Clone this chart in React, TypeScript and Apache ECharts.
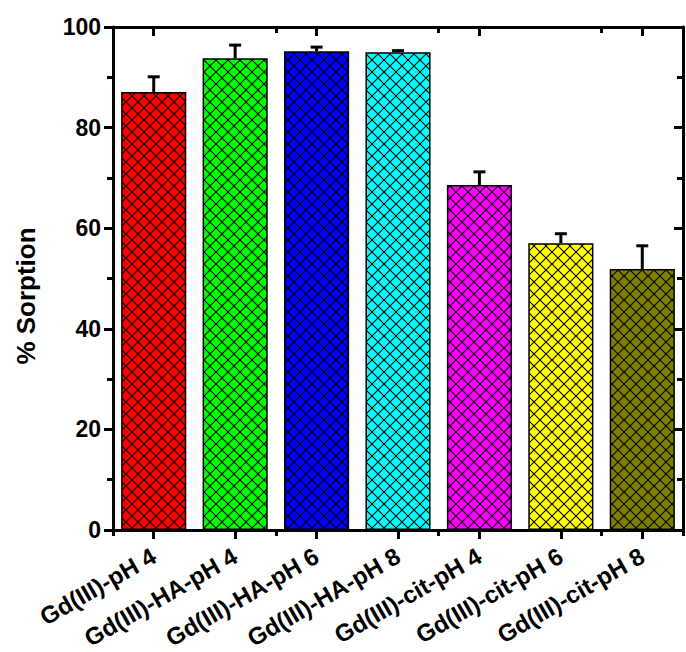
import React, { useEffect, useRef } from "react";
import * as echarts from "echarts";

const categories = [
  "Gd(III)-pH 4",
  "Gd(III)-HA-pH 4",
  "Gd(III)-HA-pH 6",
  "Gd(III)-HA-pH 8",
  "Gd(III)-cit-pH 4",
  "Gd(III)-cit-pH 6",
  "Gd(III)-cit-pH 8",
];
const sorption = [87.1, 93.8, 95.2, 95.0, 68.6, 57.0, 51.9];
const errors = [3.0, 2.6, 0.8, 0.3, 2.6, 1.9, 4.6];
const barColors = ["#FF0000", "#00FF00", "#0000FF", "#00FFFF", "#FF00FF", "#FFFF00", "#808000"];
const yTicks = [0, 20, 40, 60, 80, 100];

const FONT = "'Liberation Sans', Arial, Helvetica, sans-serif";

function makePattern(color: string) {
  const s = 12;
  const c = document.createElement("canvas");
  c.width = s;
  c.height = s;
  const ctx = c.getContext("2d")!;
  ctx.fillStyle = color;
  ctx.fillRect(0, 0, s, s);
  ctx.strokeStyle = "#000";
  ctx.lineWidth = 1.1;
  ctx.beginPath();
  ctx.moveTo(-2, -2);
  ctx.lineTo(s + 2, s + 2);
  ctx.moveTo(s + 2, -2);
  ctx.lineTo(-2, s + 2);
  ctx.stroke();
  return { image: c.toDataURL(), repeat: "repeat", imageWidth: s, imageHeight: s };
}

export default function App() {
  const ref = useRef<HTMLDivElement>(null);
  useEffect(() => {
    if (!ref.current) return;
    const chart = echarts.init(ref.current, undefined, { renderer: "svg" });
    const axisLine = { show: true, lineStyle: { color: "#000", width: 3 } };
    const tickStyle = { color: "#000", width: 3 };
    const yMin = yTicks[0];
    const yMax = yTicks[yTicks.length - 1];
    const yInterval = yTicks[1] - yTicks[0];
    chart.setOption({
      animation: false,
      grid: { left: 113, right: 3, top: 27, bottom: 122, containLabel: false },
      xAxis: [
        {
          type: "category",
          data: categories,
          position: "bottom",
          axisLine,
          axisTick: { show: true, alignWithLabel: true, length: 9, lineStyle: tickStyle },
          axisLabel: {
            rotate: 30,
            margin: 24,
            color: "#000",
            fontWeight: "bold",
            fontSize: 24,
            fontFamily: FONT,
            interval: 0,
          },
          splitLine: { show: false },
        },
        {
          type: "category",
          data: categories,
          position: "bottom",
          axisLine: { show: false },
          axisTick: { show: true, length: 6, lineStyle: tickStyle },
          axisLabel: { show: false },
          splitLine: { show: false },
        },
        {
          type: "category",
          data: categories,
          position: "top",
          axisLine,
          axisTick: { show: true, inside: true, alignWithLabel: true, length: 9, lineStyle: tickStyle },
          axisLabel: { show: false },
          splitLine: { show: false },
        },
        {
          type: "category",
          data: categories,
          position: "top",
          axisLine: { show: false },
          axisTick: { show: true, inside: true, length: 6, lineStyle: tickStyle },
          axisLabel: { show: false },
          splitLine: { show: false },
        },
      ],
      yAxis: [
        {
          type: "value",
          min: yMin,
          max: yMax,
          interval: yInterval,
          position: "left",
          axisLine,
          axisTick: { show: true, length: 9, lineStyle: tickStyle },
          minorTick: { show: true, splitNumber: 2, length: 6, lineStyle: tickStyle },
          axisLabel: {
            color: "#000",
            fontWeight: "bold",
            fontSize: 23,
            fontFamily: FONT,
            margin: 12,
          },
          splitLine: { show: false },
        },
        {
          type: "value",
          min: yMin,
          max: yMax,
          interval: yInterval,
          position: "right",
          axisLine,
          axisTick: { show: true, inside: true, length: 9, lineStyle: tickStyle },
          minorTick: { show: true, splitNumber: 2, length: 6, lineStyle: tickStyle },
          axisLabel: { show: false },
          splitLine: { show: false },
        },
      ],
      graphic: [
        {
          type: "text",
          x: 26,
          y: 296,
          rotation: Math.PI / 2,
          style: {
            text: "% Sorption",
            fill: "#000",
            font: `bold 26px ${FONT}`,
            align: "center",
            verticalAlign: "middle",
          },
        },
      ],
      series: [
        {
          type: "bar",
          xAxisIndex: 0,
          yAxisIndex: 0,
          barCategoryGap: "20%",
          data: sorption.map((v, i) => ({
            value: v,
            itemStyle: {
              color: makePattern(barColors[i]),
              borderColor: "#000",
              borderWidth: 1.5,
            },
          })),
          z: 2,
        },
        {
          type: "custom",
          xAxisIndex: 0,
          yAxisIndex: 0,
          z: 5,
          clip: false,
          data: sorption.map((v, i) => [i, v, errors[i]]),
          renderItem: (params: any, api: any) => {
            const x = api.value(0);
            const m = api.value(1);
            const e = api.value(2);
            const p0 = api.coord([x, m]);
            const p1 = api.coord([x, m + e]);
            return {
              type: "group",
              children: [
                {
                  type: "line",
                  shape: { x1: p0[0], y1: p0[1], x2: p1[0], y2: p1[1] },
                  style: { stroke: "#000", lineWidth: 3 },
                },
                {
                  type: "line",
                  shape: { x1: p1[0] - 6, y1: p1[1], x2: p1[0] + 6, y2: p1[1] },
                  style: { stroke: "#000", lineWidth: 3 },
                },
              ],
            };
          },
        },
      ],
    });
    return () => chart.dispose();
  }, []);
  return (
    <div
      ref={ref}
      style={{ position: "absolute", left: 0, top: 0, width: 686, height: 652, background: "#fff" }}
    />
  );
}
